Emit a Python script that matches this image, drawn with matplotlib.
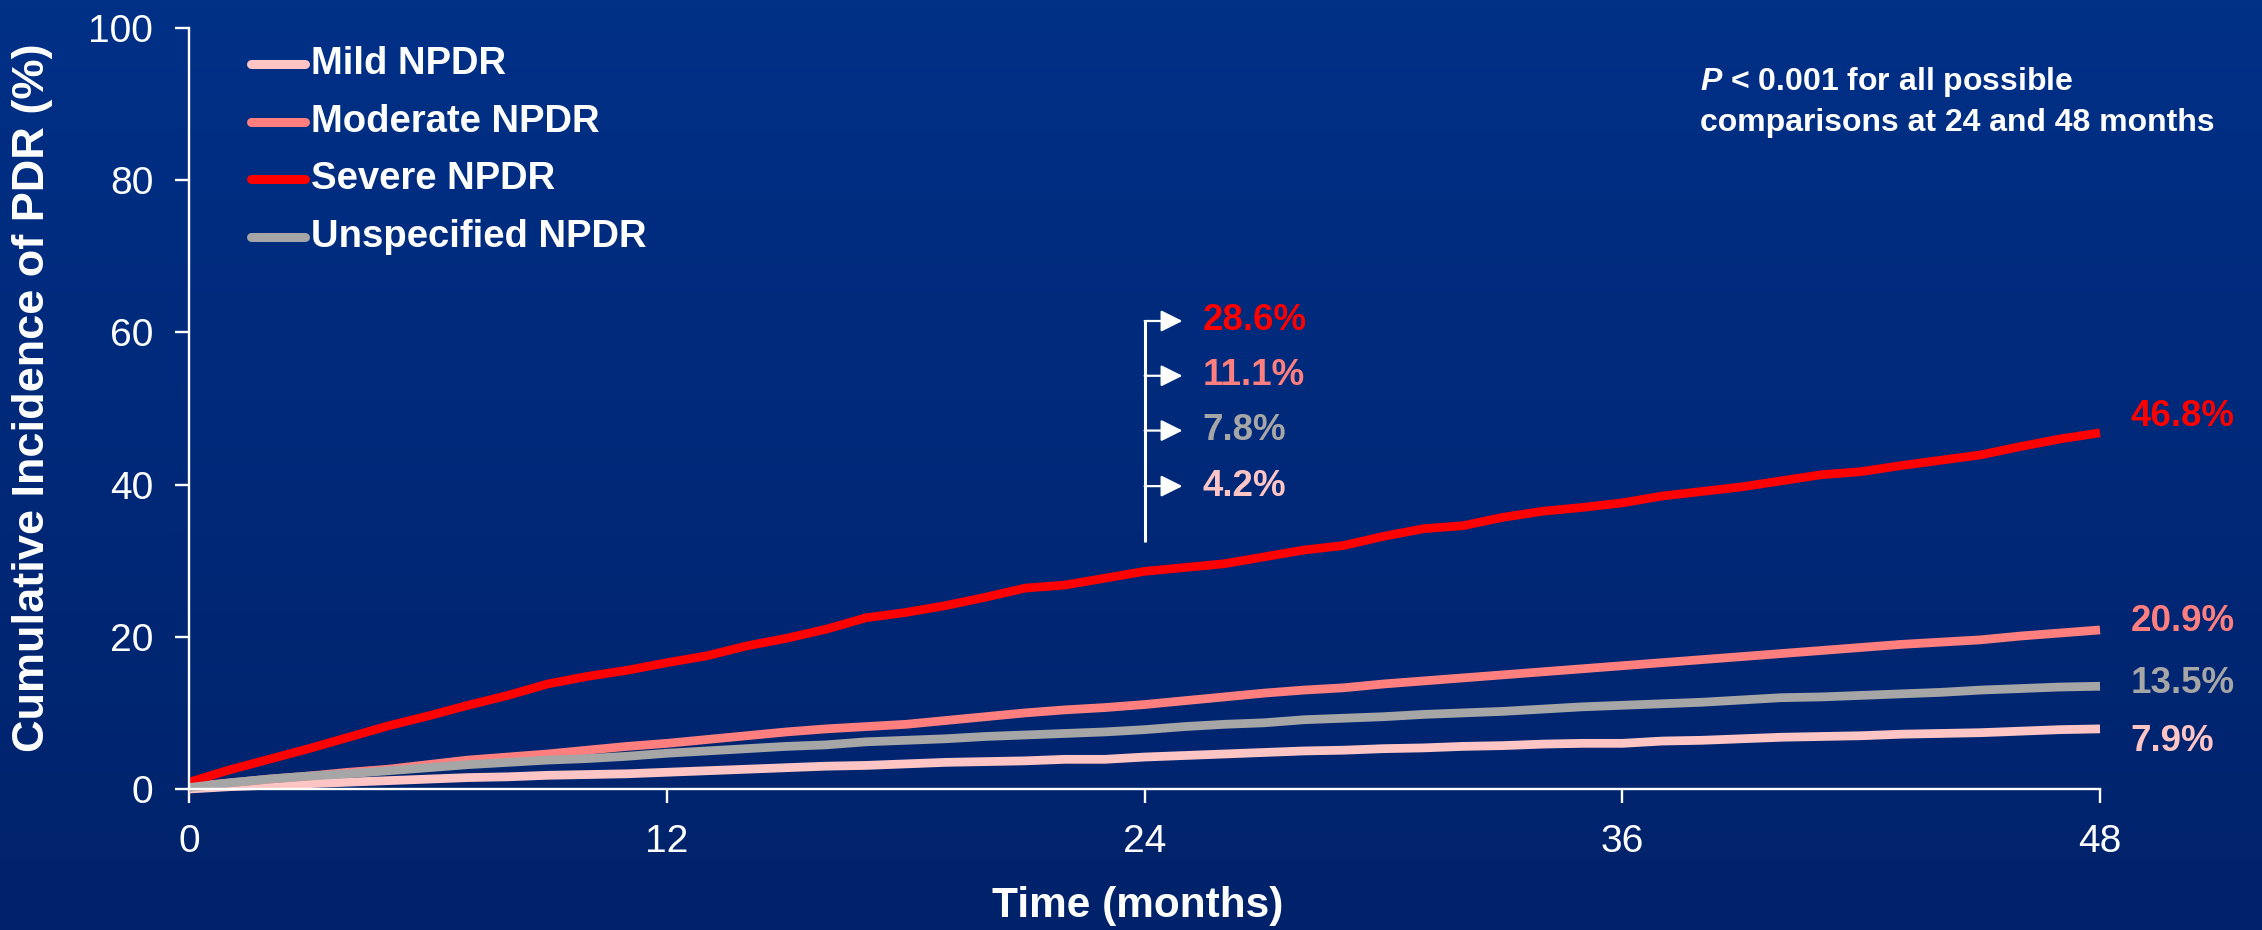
import numpy as np
import matplotlib
matplotlib.use("Agg")
import matplotlib.pyplot as plt
from matplotlib.colors import LinearSegmentedColormap

plt.rcParams["font.family"] = ["Liberation Sans", "DejaVu Sans"]
plt.rcParams["mathtext.fontset"] = "custom"
plt.rcParams["mathtext.rm"] = "Liberation Sans:bold"
plt.rcParams["mathtext.bfit"] = "Liberation Sans:italic:bold"

# ---- data -------------------------------------------------------------
months = list(range(49))

mild = [0.0, 0.3, 0.5, 0.7, 0.9, 1.1, 1.3, 1.5, 1.6, 1.8, 1.9, 2.0, 2.2,
        2.4, 2.6, 2.8, 3.0, 3.1, 3.3, 3.5, 3.6, 3.7, 3.9, 3.9, 4.2,
        4.4, 4.6, 4.8, 5.0, 5.1, 5.3, 5.4, 5.6, 5.7, 5.9, 6.0, 6.0,
        6.3, 6.4, 6.6, 6.8, 6.9, 7.0, 7.2, 7.3, 7.4, 7.6, 7.8, 7.9]

moderate = [0.3, 0.8, 1.3, 1.7, 2.2, 2.6, 3.2, 3.8, 4.2, 4.6, 5.1, 5.6, 6.0,
            6.5, 7.0, 7.5, 7.9, 8.2, 8.5, 9.0, 9.5, 10.0, 10.4, 10.7, 11.1,
            11.6, 12.1, 12.6, 13.0, 13.3, 13.8, 14.2, 14.6, 15.0, 15.4, 15.8, 16.2,
            16.6, 17.0, 17.4, 17.8, 18.2, 18.6, 19.0, 19.3, 19.6, 20.1, 20.5, 20.9]

severe = [0.9, 2.5, 3.9, 5.3, 6.8, 8.3, 9.6, 11.0, 12.3, 13.8, 14.8, 15.6, 16.6,
          17.5, 18.8, 19.8, 21.0, 22.5, 23.2, 24.1, 25.2, 26.4, 26.8, 27.7, 28.6,
          29.1, 29.6, 30.5, 31.4, 32.0, 33.2, 34.2, 34.6, 35.7, 36.5, 37.0, 37.6,
          38.5, 39.1, 39.7, 40.5, 41.3, 41.7, 42.5, 43.2, 43.9, 45.0, 46.0, 46.8]

unspecified = [0.2, 0.8, 1.3, 1.7, 2.0, 2.4, 2.8, 3.2, 3.5, 3.8, 4.0, 4.3, 4.7,
               5.0, 5.3, 5.6, 5.8, 6.2, 6.4, 6.6, 6.9, 7.1, 7.3, 7.5, 7.8,
               8.2, 8.5, 8.7, 9.1, 9.3, 9.5, 9.8, 10.0, 10.2, 10.5, 10.8, 11.0,
               11.2, 11.4, 11.7, 12.0, 12.1, 12.3, 12.5, 12.7, 13.0, 13.2, 13.4, 13.5]

series_names = ["Mild NPDR", "Moderate NPDR", "Severe NPDR", "Unspecified NPDR"]
series_values = [mild, moderate, severe, unspecified]
series_colors = ["#FFC5C5", "#FF7F7F", "#FF0000", "#A6A6A6"]

x_ticks = [0, 12, 24, 36, 48]
y_ticks = [0, 20, 40, 60, 80, 100]

# ---- figure & background --------------------------------------------
W, H, DPI = 2262, 930, 100
fig = plt.figure(figsize=(W / DPI, H / DPI), dpi=DPI)

bg = fig.add_axes([0, 0, 1, 1], zorder=-10)
grad = np.linspace(0, 1, 256).reshape(-1, 1)
cmap = LinearSegmentedColormap.from_list("bg", ["#003087", "#00226A"])
bg.imshow(grad, aspect="auto", cmap=cmap, extent=[0, 1, 0, 1])
bg.set_axis_off()

ax = fig.add_axes([189.3 / W, 1 - 789 / H, (2100 - 189.3) / W, (789 - 28) / H])
ax.set_facecolor("none")
ax.set_xlim(0, 48)
ax.set_ylim(0, 100)

for name, vals, col in zip(series_names, series_values, series_colors):
    ax.plot(months, vals, color=col, lw=6.3, solid_joinstyle="round",
            solid_capstyle="butt", clip_on=False)

# axes styling
for side in ("top", "right"):
    ax.spines[side].set_visible(False)
for side in ("left", "bottom"):
    ax.spines[side].set_color("white")
    ax.spines[side].set_linewidth(1.7)
ax.set_xticks(x_ticks)
ax.set_yticks(y_ticks)
ax.tick_params(axis="both", colors="white", width=1.7, length=10,
               labelsize=28, direction="out")
ax.tick_params(axis="y", pad=16)
ax.tick_params(axis="x", pad=15)

fig.text(33 / W, 1 - 398 / H, "Cumulative Incidence of PDR (%)", rotation=90,
         ha="center", va="center", color="white", fontsize=32.5, fontweight="bold")
fig.text(1138 / W, 1 - 906 / H, "Time (months)", ha="center", va="center",
         color="white", fontsize=30.5, fontweight="bold")

# legend drawn as line samples with labels
legend_rows = [95.3, 87.7, 80.1, 72.6]
for name, col, yy in zip(series_names, series_colors, legend_rows):
    ax.plot([1.55, 2.9], [yy, yy], color=col, lw=6.5, solid_capstyle="round")
    ax.text(3.05, yy, name, color="white", fontsize=27.5, fontweight="bold",
            va="center", ha="left")

# p-value note
fig.text(1700 / W, 1 - 82 / H, r"$\mathbfit{P}$ < 0.001 for all possible",
         color="white", fontsize=23, fontweight="bold", ha="left", va="center")
fig.text(1700 / W, 1 - 123 / H, "comparisons at 24 and 48 months",
         color="white", fontsize=23, fontweight="bold", ha="left", va="center")

# 24-month bracket with arrows and values
i24 = months.index(24)
order24 = [2, 1, 3, 0]          # severe, moderate, unspecified, mild
arrow_rows = [61.5, 54.3, 47.1, 39.8]
ax.plot([24, 24], [32.5, 61.5], color="white", lw=2.2, solid_capstyle="butt")
for k, yy in zip(order24, arrow_rows):
    ax.annotate("", xy=(24.95, yy), xytext=(24, yy),
                arrowprops=dict(arrowstyle="-|>,head_length=0.6,head_width=0.3",
                                color="white", lw=1.6, mutation_scale=22,
                                shrinkA=0, shrinkB=0))
    ax.text(25.45, yy, f"{series_values[k][i24]:.1f}%", color=series_colors[k],
            fontsize=26.5, fontweight="bold", va="center", ha="left")

# 48-month values at the line ends
end_offsets = [-1.7, 1.1, 2.2, 0.4]
for vals, col, off in zip(series_values, series_colors, end_offsets):
    ax.text(48.76, vals[-1] + off, f"{vals[-1]:.1f}%", color=col, fontsize=26.5,
            fontweight="bold", va="center", ha="left", clip_on=False)

fig.savefig("out.png", dpi=DPI)
